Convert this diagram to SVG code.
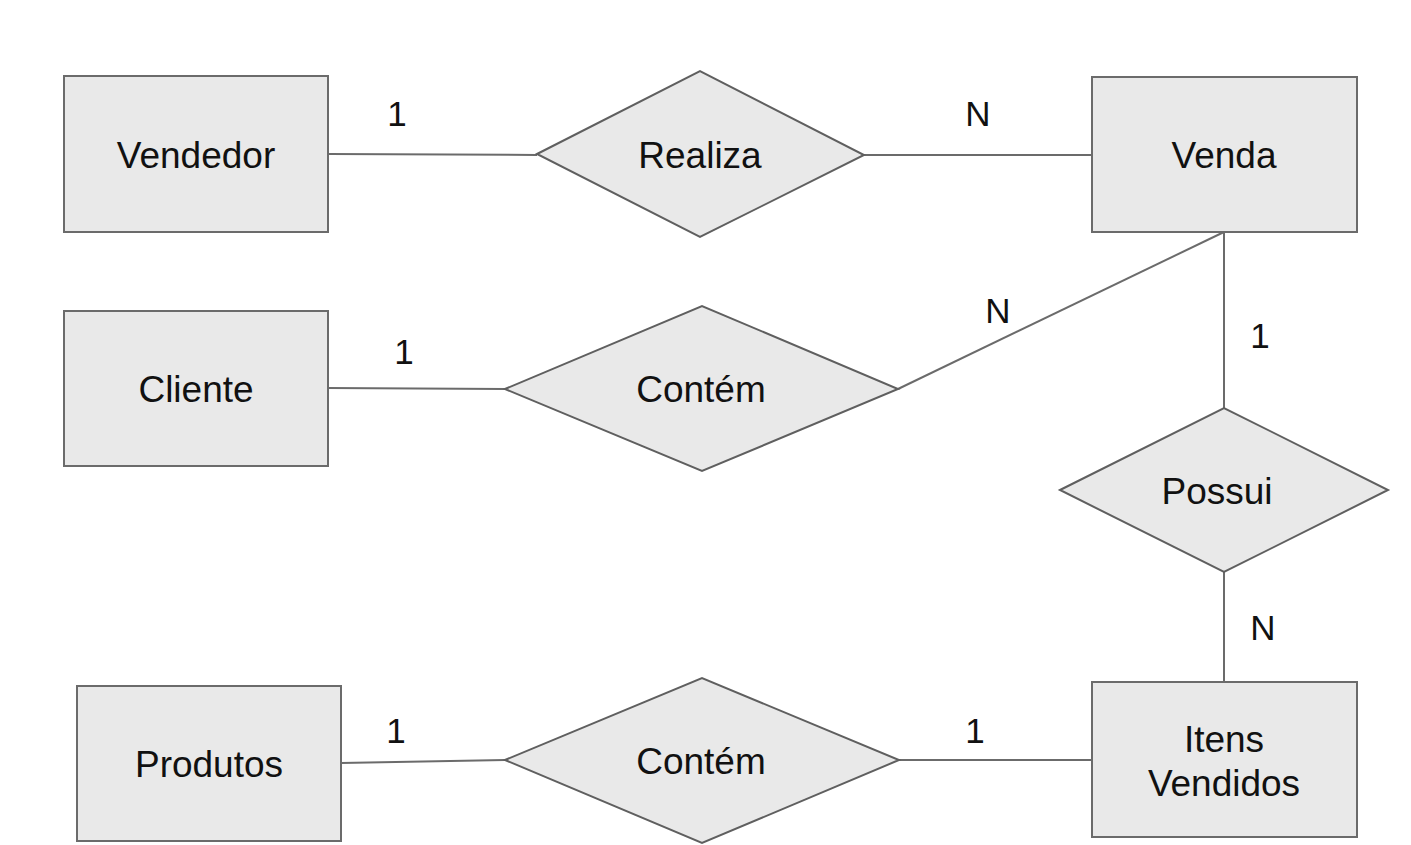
<svg xmlns="http://www.w3.org/2000/svg" width="1411" height="845" viewBox="0 0 1411 845">
<style>
.ent{fill:#e9e9e9;stroke:#6b6b6b;stroke-width:2}
.rel{fill:#e9e9e9;stroke:#5f5f5f;stroke-width:2}
.lbl{font-family:"Liberation Sans",Arial,sans-serif;font-size:37px;fill:#111;text-anchor:middle}
.card{font-family:"Liberation Sans",Arial,sans-serif;font-size:35px;fill:#111;text-anchor:middle}
.con{stroke:#6b6b6b;stroke-width:2;fill:none}
</style>
<rect width="1411" height="845" fill="#ffffff"/>
<g id="connectors">
<line class="con" x1="328" y1="154" x2="537" y2="155"/>
<line class="con" x1="864" y1="155" x2="1092" y2="155"/>
<line class="con" x1="328" y1="388" x2="505" y2="389"/>
<line class="con" x1="898" y1="389" x2="1224" y2="232"/>
<line class="con" x1="1224" y1="232" x2="1224" y2="408"/>
<line class="con" x1="1224" y1="572" x2="1224" y2="682"/>
<line class="con" x1="341" y1="763" x2="505" y2="760"/>
<line class="con" x1="899" y1="760" x2="1092" y2="760"/>
</g>
<g id="vendedor"><rect class="ent" x="64" y="76" width="264" height="156"/><text class="lbl" x="196" y="168">Vendedor</text></g>
<g id="realiza"><polygon class="rel" points="537,154 700,71 864,155 700,237"/><text class="lbl" x="700" y="168">Realiza</text></g>
<g id="venda"><rect class="ent" x="1092" y="77" width="265" height="155"/><text class="lbl" x="1224" y="168">Venda</text></g>
<g id="cliente"><rect class="ent" x="64" y="311" width="264" height="155"/><text class="lbl" x="196" y="402">Cliente</text></g>
<g id="contem1"><polygon class="rel" points="505,389 702,306 898,389 702,471"/><text class="lbl" x="701" y="402">Contém</text></g>
<g id="possui"><polygon class="rel" points="1060,490 1224,408 1388,490 1224,572"/><text class="lbl" x="1217" y="504">Possui</text></g>
<g id="produtos"><rect class="ent" x="77" y="686" width="264" height="155"/><text class="lbl" x="209" y="777">Produtos</text></g>
<g id="contem2"><polygon class="rel" points="505,760 702,678 899,760 702,843"/><text class="lbl" x="701" y="774">Contém</text></g>
<g id="itens"><rect class="ent" x="1092" y="682" width="265" height="155"/><text class="lbl" x="1224" y="752">Itens</text><text class="lbl" x="1224" y="796">Vendidos</text></g>
<g id="cardinalities">
<text class="card" x="397" y="126">1</text>
<text class="card" x="978" y="126">N</text>
<text class="card" x="998" y="323">N</text>
<text class="card" x="404" y="364">1</text>
<text class="card" x="1260" y="348">1</text>
<text class="card" x="1263" y="640">N</text>
<text class="card" x="396" y="743">1</text>
<text class="card" x="975" y="743">1</text>
</g>
</svg>
